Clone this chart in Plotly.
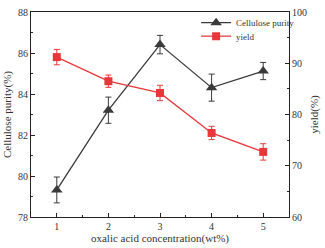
import plotly.graph_objects as go

conc = [1, 2, 3, 4, 5]
purity = [79.32, 83.21, 86.41, 84.31, 85.12]
purity_err = [0.63, 0.64, 0.45, 0.66, 0.42]
yield_v = [91.2, 86.5, 84.2, 76.4, 72.7]
yield_err = [1.5, 1.2, 1.5, 1.3, 1.6]

FONT = "Liberation Serif, Times New Roman, serif"
dark = "#3a3a3a"
red = "#e8363a"

fig = go.Figure()
fig.add_trace(go.Scatter(
    x=conc, y=purity, name="Cellulose purity", mode="lines+markers",
    line=dict(color=dark, width=1.3),
    marker=dict(symbol="triangle-up", size=10, color=dark),
    error_y=dict(type="data", array=purity_err, color=dark, thickness=1, width=3),
    yaxis="y", legend="legend"))
fig.add_trace(go.Scatter(
    x=conc, y=yield_v, name="yield", mode="lines+markers",
    line=dict(color=red, width=1.3),
    marker=dict(symbol="square", size=8, color=red),
    error_y=dict(type="data", array=yield_err, color=red, thickness=1, width=3),
    yaxis="y2", legend="legend2"))

axis_common = dict(showgrid=False, zeroline=False, showline=True, linecolor="#222",
                   linewidth=1.2, ticks="inside", ticklen=4, tickcolor="#222",
                   tickfont=dict(family=FONT, size=10, color="#333"))

leg_common = dict(xanchor="left", yanchor="middle", bgcolor="rgba(0,0,0,0)",
                  font=dict(family=FONT, size=9, color="#333"), itemwidth=30)

fig.update_layout(
    width=325, height=248,
    margin=dict(l=29, r=33, t=6, b=30),
    paper_bgcolor="white", plot_bgcolor="white",
    font=dict(family=FONT, size=10, color="#333"),
    showlegend=True,
    legend=dict(x=0.64, y=0.948, **leg_common),
    legend2=dict(x=0.64, y=0.882, **leg_common),
    xaxis=dict(range=[0.5, 5.5], tickvals=conc, mirror=True,
               minor=dict(ticks="inside", ticklen=2, dtick=0.5, tickcolor="#222"),
               title=dict(text="oxalic acid concentration(wt%)", standoff=2,
                          font=dict(family=FONT, size=11, color="#333")),
               **axis_common),
    yaxis=dict(range=[78, 88], dtick=2,
               minor=dict(ticks="inside", ticklen=2, dtick=1, tickcolor="#222"),
               title=dict(text="Cellulose purity(%)", standoff=4,
                          font=dict(family=FONT, size=11, color="#333")),
               **axis_common),
    yaxis2=dict(range=[60, 100], dtick=10, overlaying="y", side="right",
                minor=dict(ticks="inside", ticklen=2, dtick=5, tickcolor="#222"),
                title=dict(text="yield(%)", standoff=4,
                           font=dict(family=FONT, size=11, color="#333")),
                **axis_common),
)

fig.write_html("out.html", config={"displayModeBar": False},
               post_script="document.body.style.margin='0';")
